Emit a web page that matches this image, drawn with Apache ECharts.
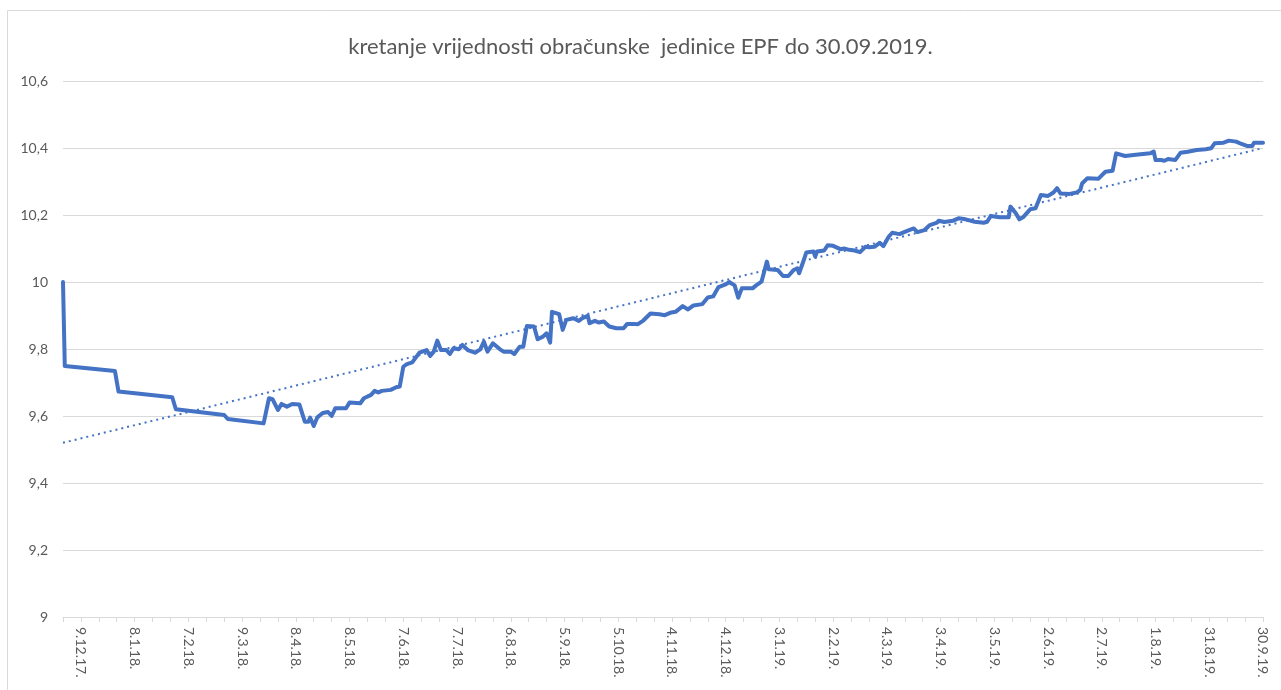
<!DOCTYPE html>
<html>
<head>
<meta charset="utf-8">
<script src="https://cdn.jsdelivr.net/npm/echarts@6/dist/echarts.min.js"></script>
<style>
  html, body { margin: 0; padding: 0; background: #fff; }
  #chart { width: 1281px; height: 690px; }
</style>
</head>
<body>
<div id="chart"></div>
<script>
// day offsets from 9.12.2017 and the unit value
const days = [
  -10, -9, 19, 21, 51, 53, 80, 82, 102, 105, 107, 110, 112, 115, 118, 122, 125, 127, 128, 130,
  132, 135, 138, 140, 142, 148, 150, 156, 158, 162, 164, 166, 168, 173, 176, 178, 180, 182, 185, 189,
  193, 195, 197, 199, 201, 204, 206, 208, 211, 213, 216, 220, 223, 225, 227, 230, 231, 234, 236, 240,
  242, 245, 247, 249, 253, 255, 258, 260, 262, 263, 267, 269, 271, 275, 278, 280, 283, 284, 287, 289,
  292, 295, 299, 303, 305, 308, 311, 314, 318, 323, 326, 329, 332, 336, 339, 342, 347, 350, 353, 356,
  360, 362, 365, 367, 369, 375, 377, 380, 383, 384, 389, 392, 395, 398, 400, 401, 403, 405, 409, 410,
  411, 415, 417, 420, 424, 426, 429, 432, 435, 438, 440, 443, 446, 448, 451, 453, 457, 461, 465, 467,
  471, 474, 478, 479, 482, 487, 490, 494, 499, 504, 506, 508, 513, 518, 519, 522, 524, 526, 530, 533,
  536, 540, 543, 545, 547, 552, 556, 558, 559, 562, 568, 572, 576, 578, 583, 589, 597, 599, 600, 603,
  605, 607, 611, 614, 618, 623, 628, 631, 633, 638, 641, 645, 648, 651, 654, 655, 660
];
const values = [
  10.000, 9.749, 9.734, 9.673, 9.656, 9.620, 9.603, 9.591, 9.578, 9.653, 9.650, 9.618, 9.636, 9.628, 9.636, 9.634, 9.583, 9.583, 9.595, 9.570,
  9.596, 9.609, 9.612, 9.600, 9.623, 9.623, 9.640, 9.638, 9.653, 9.663, 9.675, 9.670, 9.675, 9.678, 9.686, 9.688, 9.747, 9.755, 9.760, 9.789,
  9.797, 9.779, 9.792, 9.825, 9.797, 9.797, 9.785, 9.802, 9.799, 9.812, 9.797, 9.789, 9.799, 9.822, 9.792, 9.817, 9.822, 9.799, 9.792, 9.792,
  9.785, 9.807, 9.807, 9.869, 9.867, 9.829, 9.837, 9.847, 9.819, 9.911, 9.904, 9.857, 9.887, 9.892, 9.884, 9.892, 9.899, 9.877, 9.884, 9.879,
  9.882, 9.867, 9.862, 9.862, 9.875, 9.875, 9.874, 9.885, 9.906, 9.904, 9.901, 9.908, 9.911, 9.928, 9.918, 9.930, 9.934, 9.954, 9.957, 9.985,
  9.993, 10.000, 9.990, 9.953, 9.981, 9.981, 9.990, 10.001, 10.061, 10.038, 10.036, 10.018, 10.018, 10.036, 10.041, 10.026, 10.056, 10.088, 10.091, 10.076,
  10.091, 10.094, 10.110, 10.108, 10.098, 10.100, 10.096, 10.094, 10.089, 10.105, 10.104, 10.105, 10.117, 10.107, 10.135, 10.147, 10.143, 10.152, 10.160, 10.149,
  10.155, 10.170, 10.177, 10.183, 10.179, 10.183, 10.190, 10.187, 10.180, 10.177, 10.180, 10.197, 10.193, 10.193, 10.225, 10.205, 10.187, 10.193, 10.217, 10.220,
  10.260, 10.257, 10.267, 10.280, 10.264, 10.263, 10.267, 10.275, 10.294, 10.310, 10.308, 10.329, 10.332, 10.384, 10.376, 10.380, 10.384, 10.389, 10.364, 10.364,
  10.362, 10.367, 10.364, 10.386, 10.389, 10.394, 10.396, 10.399, 10.414, 10.416, 10.422, 10.419, 10.412, 10.406, 10.406, 10.416, 10.416
];
// dotted trend line, end points
const trendDays = [-10, 660];
const trendValues = [9.52, 10.40];

const xTickLabels = [
  "9.12.17.", "8.1.18.", "7.2.18.", "9.3.18.", "8.4.18.", "8.5.18.", "7.6.18.", "7.7.18.",
  "6.8.18.", "5.9.18.", "5.10.18.", "4.11.18.", "4.12.18.", "3.1.19.", "2.2.19.", "4.3.19.",
  "3.4.19.", "3.5.19.", "2.6.19.", "2.7.19.", "1.8.19.", "31.8.19.", "30.9.19."
];
const labelDays = xTickLabels.map((_, i) => i * 30);
const tickDays = [];
for (let d = -10; d <= 660; d += 10) tickDays.push(d);

const textColor = "#595959";
const gridColor = "#D9D9D9";
const lineColor = "#4472C4";
const font = "Lato, 'Open Sans', sans-serif";

const mychart = echarts.init(document.getElementById("chart"));
mychart.setOption({
  animation: false,
  title: {
    text: "kretanje vrijednosti obračunske  jedinice EPF do 30.09.2019.",
    left: "center",
    top: 31,
    textStyle: { color: textColor, fontSize: 22, fontWeight: "normal", fontFamily: font },
  },
  graphic: [
    {
      type: "rect",
      shape: { x: 7.5, y: 10.5, width: 1300, height: 720 },
      style: { fill: "none", stroke: gridColor, lineWidth: 1 },
      silent: true,
      z: -1,
    },
  ],
  grid: { left: 63, right: 18, top: 81, bottom: 73 },
  xAxis: {
    type: "value",
    min: -10,
    max: 660,
    splitLine: { show: false },
    axisLine: { show: true, lineStyle: { color: gridColor, width: 1 } },
    axisTick: { show: true, length: 5, customValues: tickDays, lineStyle: { color: gridColor } },
    axisLabel: {
      customValues: labelDays,
      rotate: -90,
      margin: 10,
      color: textColor,
      fontSize: 14,
      fontFamily: font,
      formatter: (v) => xTickLabels[Math.round(v / 30)] || "",
    },
  },
  yAxis: {
    type: "value",
    min: 9,
    max: 10.6,
    interval: 0.2,
    axisLine: { show: false },
    axisTick: { show: false },
    splitLine: { lineStyle: { color: gridColor, width: 1 } },
    axisLabel: {
      margin: 15,
      color: textColor,
      fontSize: 14,
      fontFamily: font,
      formatter: (v) => String(Math.round(v * 10) / 10).replace(".", ","),
    },
  },
  series: [
    {
      name: "EPF",
      type: "line",
      data: days.map((d, i) => [d, values[i]]),
      symbol: "none",
      lineStyle: { color: lineColor, width: 4, join: "round", cap: "round" },
      z: 3,
    },
    {
      name: "trend",
      type: "line",
      data: trendDays.map((d, i) => [d, trendValues[i]]),
      symbol: "none",
      lineStyle: { color: lineColor, width: 2, type: [2, 4] },
      z: 2,
    },
  ],
});
</script>
</body>
</html>
